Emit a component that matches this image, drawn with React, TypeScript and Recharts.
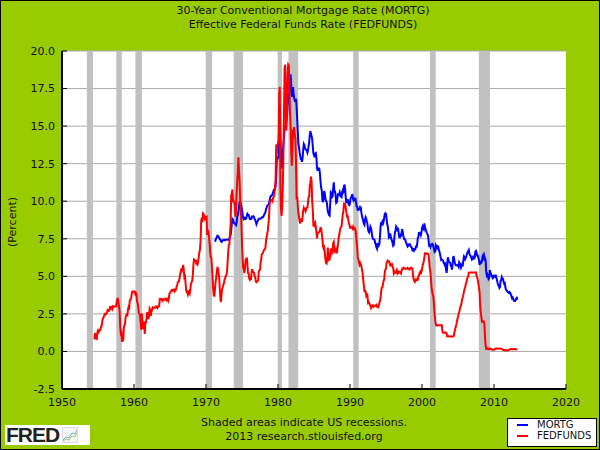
import { ComposedChart, Line, XAxis, YAxis, CartesianGrid, ReferenceArea } from "recharts";

const X_TICKS = [1950, 1960, 1970, 1980, 1990, 2000, 2010, 2020];
const Y_TICKS = [-2.5, 0, 2.5, 5, 7.5, 10, 12.5, 15, 17.5, 20];

// NBER recessions, decimal years
const RECESSIONS: [number, number][] = [
  [1953.45, 1954.3],
  [1957.55, 1958.3],
  [1960.2, 1961.1],
  [1969.95, 1970.85],
  [1973.85, 1975.15],
  [1979.95, 1980.55],
  [1981.45, 1982.8],
  [1990.45, 1991.2],
  [2001.1, 2001.9],
  [2007.9, 2009.45],
];

// Effective Federal Funds Rate, monthly from Jul 1954
const FED_START = 1954.5;
const FEDFUNDS = [
  0.80, 1.22, 1.06, 0.85, 0.83, 1.28,
  1.39, 1.29, 1.35, 1.43, 1.43, 1.64, 1.68, 1.96, 2.18, 2.24, 2.35, 2.48,
  2.45, 2.50, 2.50, 2.62, 2.75, 2.71, 2.75, 2.73, 2.95, 2.96, 2.88, 2.94,
  2.84, 3.00, 2.96, 3.00, 3.00, 3.00, 2.99, 3.24, 3.47, 3.50, 3.28, 2.98,
  2.72, 1.67, 1.20, 1.26, 0.63, 0.93, 0.68, 1.53, 1.76, 1.80, 2.27, 2.42,
  2.48, 2.43, 2.80, 2.96, 2.90, 3.39, 3.47, 3.50, 3.76, 3.98, 4.00, 3.99,
  3.99, 3.97, 3.84, 3.92, 3.85, 3.32, 3.23, 2.98, 2.60, 2.47, 2.44, 1.98,
  1.45, 2.54, 2.02, 1.49, 1.98, 1.73, 1.17, 2.00, 1.88, 2.26, 2.62, 2.33,
  2.15, 2.37, 2.85, 2.78, 2.36, 2.68, 2.71, 2.93, 2.90, 2.90, 2.94, 2.93,
  2.92, 3.00, 2.98, 2.90, 3.00, 2.99, 3.02, 3.49, 3.48, 3.50, 3.48, 3.38,
  3.48, 3.48, 3.43, 3.47, 3.50, 3.50, 3.42, 3.50, 3.45, 3.36, 3.52, 3.85,
  3.90, 3.98, 4.04, 4.09, 4.10, 4.04, 4.09, 4.12, 4.01, 4.08, 4.10, 4.32,
  4.42, 4.60, 4.65, 4.67, 4.90, 5.17, 5.30, 5.53, 5.40, 5.53, 5.76, 5.40,
  4.94, 5.00, 4.53, 4.05, 3.94, 3.98, 3.79, 3.90, 3.99, 3.88, 4.13, 4.51,
  4.60, 4.71, 5.05, 5.76, 6.11, 6.07, 6.02, 6.03, 5.78, 5.91, 5.82, 6.02,
  6.30, 6.61, 6.79, 7.41, 8.67, 8.90, 8.61, 9.19, 9.15, 9.00, 8.85, 8.97,
  8.98, 8.98, 7.76, 8.10, 7.95, 7.61, 7.21, 6.61, 6.29, 6.20, 5.60, 4.90,
  4.14, 3.72, 3.71, 4.16, 4.63, 4.91, 5.31, 5.57, 5.55, 5.20, 4.91, 4.14,
  3.50, 3.29, 3.83, 4.17, 4.27, 4.46, 4.55, 4.80, 4.87, 5.04, 5.06, 5.33,
  5.94, 6.58, 7.09, 7.12, 7.84, 8.49, 10.40, 10.50, 10.78, 10.01, 10.03, 9.95,
  9.65, 8.97, 9.35, 10.51, 11.31, 11.93, 12.92, 12.01, 11.34, 10.06, 9.45, 8.53,
  7.13, 6.24, 5.54, 5.49, 5.22, 5.55, 6.10, 6.14, 6.24, 5.82, 5.22, 5.20,
  4.87, 4.77, 4.84, 4.82, 5.29, 5.48, 5.31, 5.29, 5.25, 5.02, 4.95, 4.65,
  4.61, 4.68, 4.69, 4.73, 5.35, 5.39, 5.42, 5.90, 6.14, 6.47, 6.51, 6.56,
  6.70, 6.78, 6.79, 6.89, 7.36, 7.60, 7.81, 8.04, 8.45, 8.96, 9.76, 10.03,
  10.07, 10.06, 10.09, 10.01, 10.24, 10.29, 10.47, 10.94, 11.43, 13.77, 13.18, 13.78,
  13.82, 14.13, 17.19, 17.61, 10.98, 9.47, 9.03, 9.61, 10.87, 12.81, 15.85, 18.90,
  19.08, 15.93, 14.70, 15.72, 18.52, 19.10, 19.04, 17.82, 15.87, 15.08, 13.31, 12.37,
  13.22, 14.78, 14.68, 14.94, 14.45, 14.15, 12.59, 10.12, 10.31, 9.71, 9.20, 8.95,
  8.68, 8.51, 8.77, 8.80, 8.63, 8.98, 9.37, 9.56, 9.45, 9.48, 9.34, 9.47,
  9.56, 9.59, 9.91, 10.29, 10.32, 11.06, 11.23, 11.64, 11.30, 9.99, 9.43, 8.38,
  8.35, 8.50, 8.58, 8.27, 7.97, 7.53, 7.88, 7.90, 7.92, 7.99, 8.05, 8.27,
  8.14, 7.86, 7.48, 6.99, 6.85, 6.92, 6.56, 6.17, 5.89, 5.85, 6.04, 6.91,
  6.43, 6.10, 6.13, 6.37, 6.85, 6.73, 6.58, 6.73, 7.22, 7.29, 6.69, 6.77,
  6.83, 6.58, 6.58, 6.87, 7.09, 7.51, 7.75, 8.01, 8.19, 8.30, 8.35, 8.76,
  9.12, 9.36, 9.85, 9.84, 9.81, 9.53, 9.24, 8.99, 9.02, 8.84, 8.55, 8.45,
  8.23, 8.24, 8.28, 8.26, 8.18, 8.29, 8.15, 8.13, 8.20, 8.11, 7.81, 7.31,
  6.91, 6.25, 6.12, 5.91, 5.78, 5.90, 5.82, 5.66, 5.45, 5.21, 4.81, 4.43,
  4.03, 4.06, 3.98, 3.73, 3.82, 3.76, 3.25, 3.30, 3.22, 3.10, 3.09, 2.92,
  3.02, 3.03, 3.07, 2.96, 3.00, 3.04, 3.06, 3.03, 3.09, 2.99, 3.02, 2.96,
  3.05, 3.25, 3.34, 3.56, 4.01, 4.25, 4.26, 4.47, 4.73, 4.76, 5.29, 5.45,
  5.53, 5.92, 5.98, 6.05, 6.01, 6.00, 5.85, 5.74, 5.80, 5.76, 5.80, 5.60,
  5.56, 5.22, 5.31, 5.22, 5.24, 5.27, 5.40, 5.22, 5.30, 5.24, 5.31, 5.29,
  5.25, 5.19, 5.39, 5.51, 5.50, 5.56, 5.52, 5.54, 5.54, 5.50, 5.52, 5.50,
  5.56, 5.51, 5.49, 5.45, 5.49, 5.56, 5.54, 5.55, 5.51, 5.07, 4.83, 4.68,
  4.63, 4.76, 4.81, 4.74, 4.74, 4.76, 4.99, 5.07, 5.22, 5.20, 5.42, 5.30,
  5.45, 5.73, 5.85, 6.02, 6.27, 6.53, 6.54, 6.50, 6.52, 6.51, 6.51, 6.40,
  5.98, 5.49, 5.31, 4.80, 4.21, 3.97, 3.77, 3.65, 3.07, 2.49, 2.09, 1.82,
  1.73, 1.74, 1.73, 1.75, 1.75, 1.75, 1.73, 1.74, 1.75, 1.75, 1.34, 1.24,
  1.24, 1.26, 1.25, 1.26, 1.26, 1.22, 1.01, 1.03, 1.01, 1.01, 1.00, 0.98,
  1.00, 1.01, 1.00, 1.00, 1.00, 1.03, 1.26, 1.43, 1.61, 1.76, 1.93, 2.16,
  2.28, 2.50, 2.63, 2.79, 3.00, 3.04, 3.26, 3.50, 3.62, 3.78, 4.00, 4.16,
  4.29, 4.49, 4.59, 4.79, 4.94, 4.99, 5.24, 5.25, 5.25, 5.25, 5.25, 5.24,
  5.25, 5.26, 5.26, 5.25, 5.25, 5.25, 5.26, 5.02, 4.94, 4.76, 4.49, 4.24,
  3.94, 2.98, 2.61, 2.28, 1.98, 2.00, 2.01, 2.00, 1.81, 0.97, 0.39, 0.16,
  0.15, 0.22, 0.18, 0.15, 0.18, 0.21, 0.16, 0.16, 0.15, 0.12, 0.12, 0.12,
  0.11, 0.13, 0.16, 0.20, 0.20, 0.18, 0.18, 0.19, 0.19, 0.19, 0.19, 0.18,
  0.17, 0.16, 0.14, 0.10, 0.09, 0.09, 0.07, 0.10, 0.08, 0.07, 0.08, 0.07,
  0.08, 0.10, 0.13, 0.14, 0.16, 0.16, 0.16, 0.13, 0.14, 0.16, 0.16, 0.16,
  0.14, 0.15, 0.14, 0.15,
];

// 30-Year Conventional Mortgage Rate, monthly from Apr 1971
const MORTG_START = 1971.25;
const MORTG = [
  7.31, 7.43, 7.53, 7.60, 7.70, 7.69, 7.63, 7.55, 7.48,
  7.44, 7.32, 7.29, 7.37, 7.41, 7.41, 7.43, 7.40, 7.42, 7.43, 7.44, 7.44,
  7.44, 7.44, 7.46, 7.54, 7.65, 7.73, 8.05, 8.50, 8.82, 8.77, 8.58, 8.54,
  8.54, 8.46, 8.41, 8.58, 8.97, 9.09, 9.28, 9.59, 9.96, 9.98, 9.79, 9.62,
  9.43, 9.10, 8.89, 8.82, 8.91, 8.89, 8.82, 8.84, 9.01, 9.16, 9.10, 9.09,
  8.99, 8.82, 8.80, 8.82, 8.87, 8.99, 8.98, 9.00, 8.93, 8.82, 8.76, 8.61,
  8.47, 8.59, 8.67, 8.74, 8.84, 8.84, 8.84, 8.85, 8.88, 8.93, 8.92, 8.94,
  9.01, 9.13, 9.18, 9.26, 9.46, 9.57, 9.69, 9.75, 9.77, 9.83, 10.05, 10.24,
  10.35, 10.36, 10.41, 10.48, 10.62, 10.75, 10.76, 10.80, 10.97, 11.64, 12.83, 12.90,
  12.88, 13.04, 15.28, 16.32, 14.26, 12.71, 12.19, 12.56, 13.20, 13.79, 14.21, 14.79,
  14.90, 15.13, 15.40, 15.58, 16.40, 16.70, 16.83, 17.29, 18.16, 18.45, 17.83, 16.92,
  17.40, 17.60, 17.16, 16.89, 16.68, 16.70, 16.82, 16.27, 15.43, 14.61, 13.83, 13.62,
  13.25, 13.04, 12.80, 12.78, 12.63, 12.87, 13.42, 13.81, 13.73, 13.54, 13.44, 13.42,
  13.37, 13.23, 13.39, 13.65, 13.94, 14.42, 14.67, 14.47, 14.35, 14.13, 13.64, 13.18,
  13.08, 12.92, 13.17, 13.20, 12.91, 12.22, 12.03, 12.19, 12.19, 12.14, 11.78, 11.26,
  10.88, 10.71, 10.08, 9.94, 10.14, 10.68, 10.51, 10.20, 10.01, 9.98, 9.70, 9.31,
  9.20, 9.08, 9.04, 9.83, 10.60, 10.54, 10.28, 10.33, 10.89, 11.26, 10.65, 10.65,
  10.43, 9.89, 9.93, 10.20, 10.46, 10.46, 10.43, 10.60, 10.48, 10.30, 10.27, 10.61,
  10.73, 10.65, 11.03, 11.05, 10.77, 10.20, 9.88, 9.99, 10.13, 9.95, 9.77, 9.74,
  9.90, 10.20, 10.27, 10.37, 10.48, 10.16, 10.04, 10.10, 10.18, 10.18, 9.95, 9.66,
  9.64, 9.37, 9.50, 9.49, 9.47, 9.62, 9.58, 9.24, 9.01, 8.86, 8.71, 8.50,
  8.43, 8.76, 8.94, 8.85, 8.67, 8.51, 8.13, 7.98, 7.92, 8.09, 8.31, 8.22,
  7.99, 7.68, 7.50, 7.47, 7.47, 7.42, 7.21, 7.11, 6.92, 6.83, 7.16, 7.17,
  7.06, 7.15, 7.68, 8.32, 8.60, 8.40, 8.61, 8.51, 8.64, 8.93, 9.17, 9.20,
  9.15, 8.83, 8.46, 8.32, 7.96, 7.57, 7.61, 7.86, 7.64, 7.48, 7.38, 7.20,
  7.03, 7.08, 7.62, 7.93, 8.07, 8.32, 8.25, 8.00, 8.23, 7.92, 7.62, 7.60,
  7.82, 7.65, 7.90, 8.14, 7.94, 7.69, 7.50, 7.48, 7.43, 7.29, 7.21, 7.10,
  6.99, 7.04, 7.13, 7.14, 7.14, 7.00, 6.95, 6.92, 6.72, 6.71, 6.87, 6.72,
  6.79, 6.81, 7.04, 6.92, 7.15, 7.55, 7.63, 7.94, 7.82, 7.85, 7.74, 7.91,
  8.21, 8.33, 8.24, 8.15, 8.52, 8.29, 8.15, 8.03, 7.91, 7.80, 7.75, 7.38,
  7.03, 7.05, 6.95, 7.08, 7.15, 7.16, 7.13, 6.95, 6.82, 6.62, 6.66, 7.07,
  7.00, 6.89, 7.01, 6.99, 6.81, 6.65, 6.49, 6.29, 6.09, 6.11, 6.07, 6.05,
  5.92, 5.84, 5.75, 5.81, 5.48, 5.23, 5.63, 6.26, 6.15, 5.95, 5.93, 5.88,
  5.71, 5.64, 5.45, 5.83, 6.27, 6.29, 6.06, 5.87, 5.75, 5.72, 5.73, 5.75,
  5.71, 5.63, 5.93, 5.86, 5.72, 5.58, 5.70, 5.82, 5.77, 6.07, 6.33, 6.27,
  6.15, 6.25, 6.32, 6.51, 6.60, 6.68, 6.76, 6.52, 6.40, 6.36, 6.24, 6.14,
  6.22, 6.29, 6.16, 6.18, 6.26, 6.66, 6.70, 6.57, 6.38, 6.38, 6.21, 6.10,
  5.76, 5.92, 5.97, 5.92, 6.04, 6.32, 6.43, 6.48, 6.04, 6.20, 6.09, 5.33,
  5.06, 5.13, 5.00, 4.81, 4.86, 5.42, 5.22, 5.19, 5.06, 4.95, 4.88, 4.93,
  5.03, 4.99, 4.97, 5.10, 4.89, 4.74, 4.56, 4.43, 4.35, 4.23, 4.30, 4.71,
  4.76, 4.95, 4.84, 4.84, 4.64, 4.51, 4.55, 4.27, 4.11, 4.07, 3.99, 3.96,
  3.92, 3.89, 3.95, 3.91, 3.80, 3.68, 3.55, 3.60, 3.50, 3.38, 3.35, 3.35,
  3.41, 3.53, 3.57, 3.45,
];

const toSeries = (start: number, values: number[]) =>
  values.map((v, i) => ({ t: start + i / 12, v }));

const FONT = "'DejaVu Sans', Verdana, sans-serif";

export default function App() {
  const fedData = toSeries(FED_START, FEDFUNDS);
  const mortgData = toSeries(MORTG_START, MORTG);

  return (
    <div
      style={{
        position: "absolute",
        top: 0,
        left: 0,
        width: 600,
        height: 450,
        background: "#99cc00",
        fontFamily: FONT,
        color: "#111",
      }}
    >
      <ComposedChart
        width={600}
        height={450}
        margin={{ top: 51, right: 34, bottom: 31, left: 0 }}
        style={{ position: "absolute", top: 0, left: 0 }}
      >
        <XAxis
          dataKey="t"
          type="number"
          domain={[1950, 2020]}
          ticks={X_TICKS}
          allowDataOverflow
          height={30}
          axisLine={{ stroke: "#000", strokeWidth: 2 }}
          tickLine={{ stroke: "#000" }}
          tickSize={-5}
          tickMargin={14}
          tick={{ fill: "#111", fontSize: 11, fontFamily: FONT }}
        />
        <YAxis
          type="number"
          domain={[-2.5, 20]}
          ticks={Y_TICKS}
          allowDataOverflow
          width={62}
          axisLine={{ stroke: "#000", strokeWidth: 2 }}
          tickLine={{ stroke: "#000" }}
          tickSize={-5}
          tickMargin={12}
          tickFormatter={(v: number) => v.toFixed(1)}
          tick={{ fill: "#111", fontSize: 11, fontFamily: FONT }}
        />
        <rect />
        {RECESSIONS.map(([a, b], i) => (
          <ReferenceArea
            key={i}
            x1={a}
            x2={b}
            y1={-2.5}
            y2={20}
            fill="#c0c0c0"
            fillOpacity={1}
            stroke="none"
          />
        ))}
        <CartesianGrid vertical={false} stroke="#aaaaaa" fill="#ffffff" />
        <Line
          data={mortgData}
          dataKey="v"
          stroke="#0000ff"
          strokeWidth={2}
          dot={false}
          isAnimationActive={false}
        />
        <Line
          data={fedData}
          dataKey="v"
          stroke="#ff0000"
          strokeWidth={2}
          dot={false}
          isAnimationActive={false}
        />
      </ComposedChart>

      {/* title */}
      <div style={{ position: "absolute", top: 4, left: 0, width: 606, textAlign: "center", fontSize: 11, lineHeight: "14px" }}>
        <div>30-Year Conventional Mortgage Rate (MORTG)</div>
        <div>Effective Federal Funds Rate (FEDFUNDS)</div>
      </div>

      {/* y axis label */}
      <div
        style={{
          position: "absolute",
          left: 12,
          top: 222,
          fontSize: 11,
          transform: "translate(-50%, -50%) rotate(-90deg)",
          whiteSpace: "nowrap",
        }}
      >
        (Percent)
      </div>

      {/* footer */}
      <div style={{ position: "absolute", top: 416, left: 0, width: 608, textAlign: "center", fontSize: 11, lineHeight: "14px" }}>
        <div>Shaded areas indicate US recessions.</div>
        <div>2013 research.stlouisfed.org</div>
      </div>

      {/* FRED logo */}
      <div
        style={{
          position: "absolute",
          left: 5,
          top: 425,
          width: 85,
          height: 20,
          background: "#fff",
          display: "flex",
          alignItems: "center",
        }}
      >
        <span style={{ fontFamily: "'Liberation Sans', Arial, sans-serif", fontWeight: 900, fontSize: 21, letterSpacing: -1, color: "#222", marginLeft: 1, lineHeight: "20px" }}>
          FRED
        </span>
        <svg width={16} height={16} style={{ marginLeft: 3 }}>
          <rect x={0.5} y={0.5} width={15} height={15} fill="#f4f4f4" stroke="#ddd" />
          <polyline points="1,13 4,10 7,11 10,6 13,7 15,3" fill="none" stroke="#7fa8d0" strokeWidth={1} />
          <polyline points="1,14 4,12 7,13 10,9 13,10 15,6" fill="none" stroke="#a8c878" strokeWidth={1} />
        </svg>
      </div>

      {/* legend */}
      <div
        style={{
          position: "absolute",
          left: 507,
          top: 418,
          width: 88,
          height: 27,
          background: "#fff",
          border: "1px solid #000",
          fontSize: 10,
        }}
      >
        <div style={{ position: "absolute", left: 9, top: 5, width: 11, height: 2, background: "#0000ff" }} />
        <div style={{ position: "absolute", left: 29, top: 0, lineHeight: "12px" }}>MORTG</div>
        <div style={{ position: "absolute", left: 9, top: 16, width: 11, height: 2, background: "#ff0000" }} />
        <div style={{ position: "absolute", left: 29, top: 11, lineHeight: "12px" }}>FEDFUNDS</div>
      </div>

      {/* outer border */}
      <div
        style={{
          position: "absolute",
          inset: 0,
          border: "1px solid #000",
          pointerEvents: "none",
        }}
      />
    </div>
  );
}
